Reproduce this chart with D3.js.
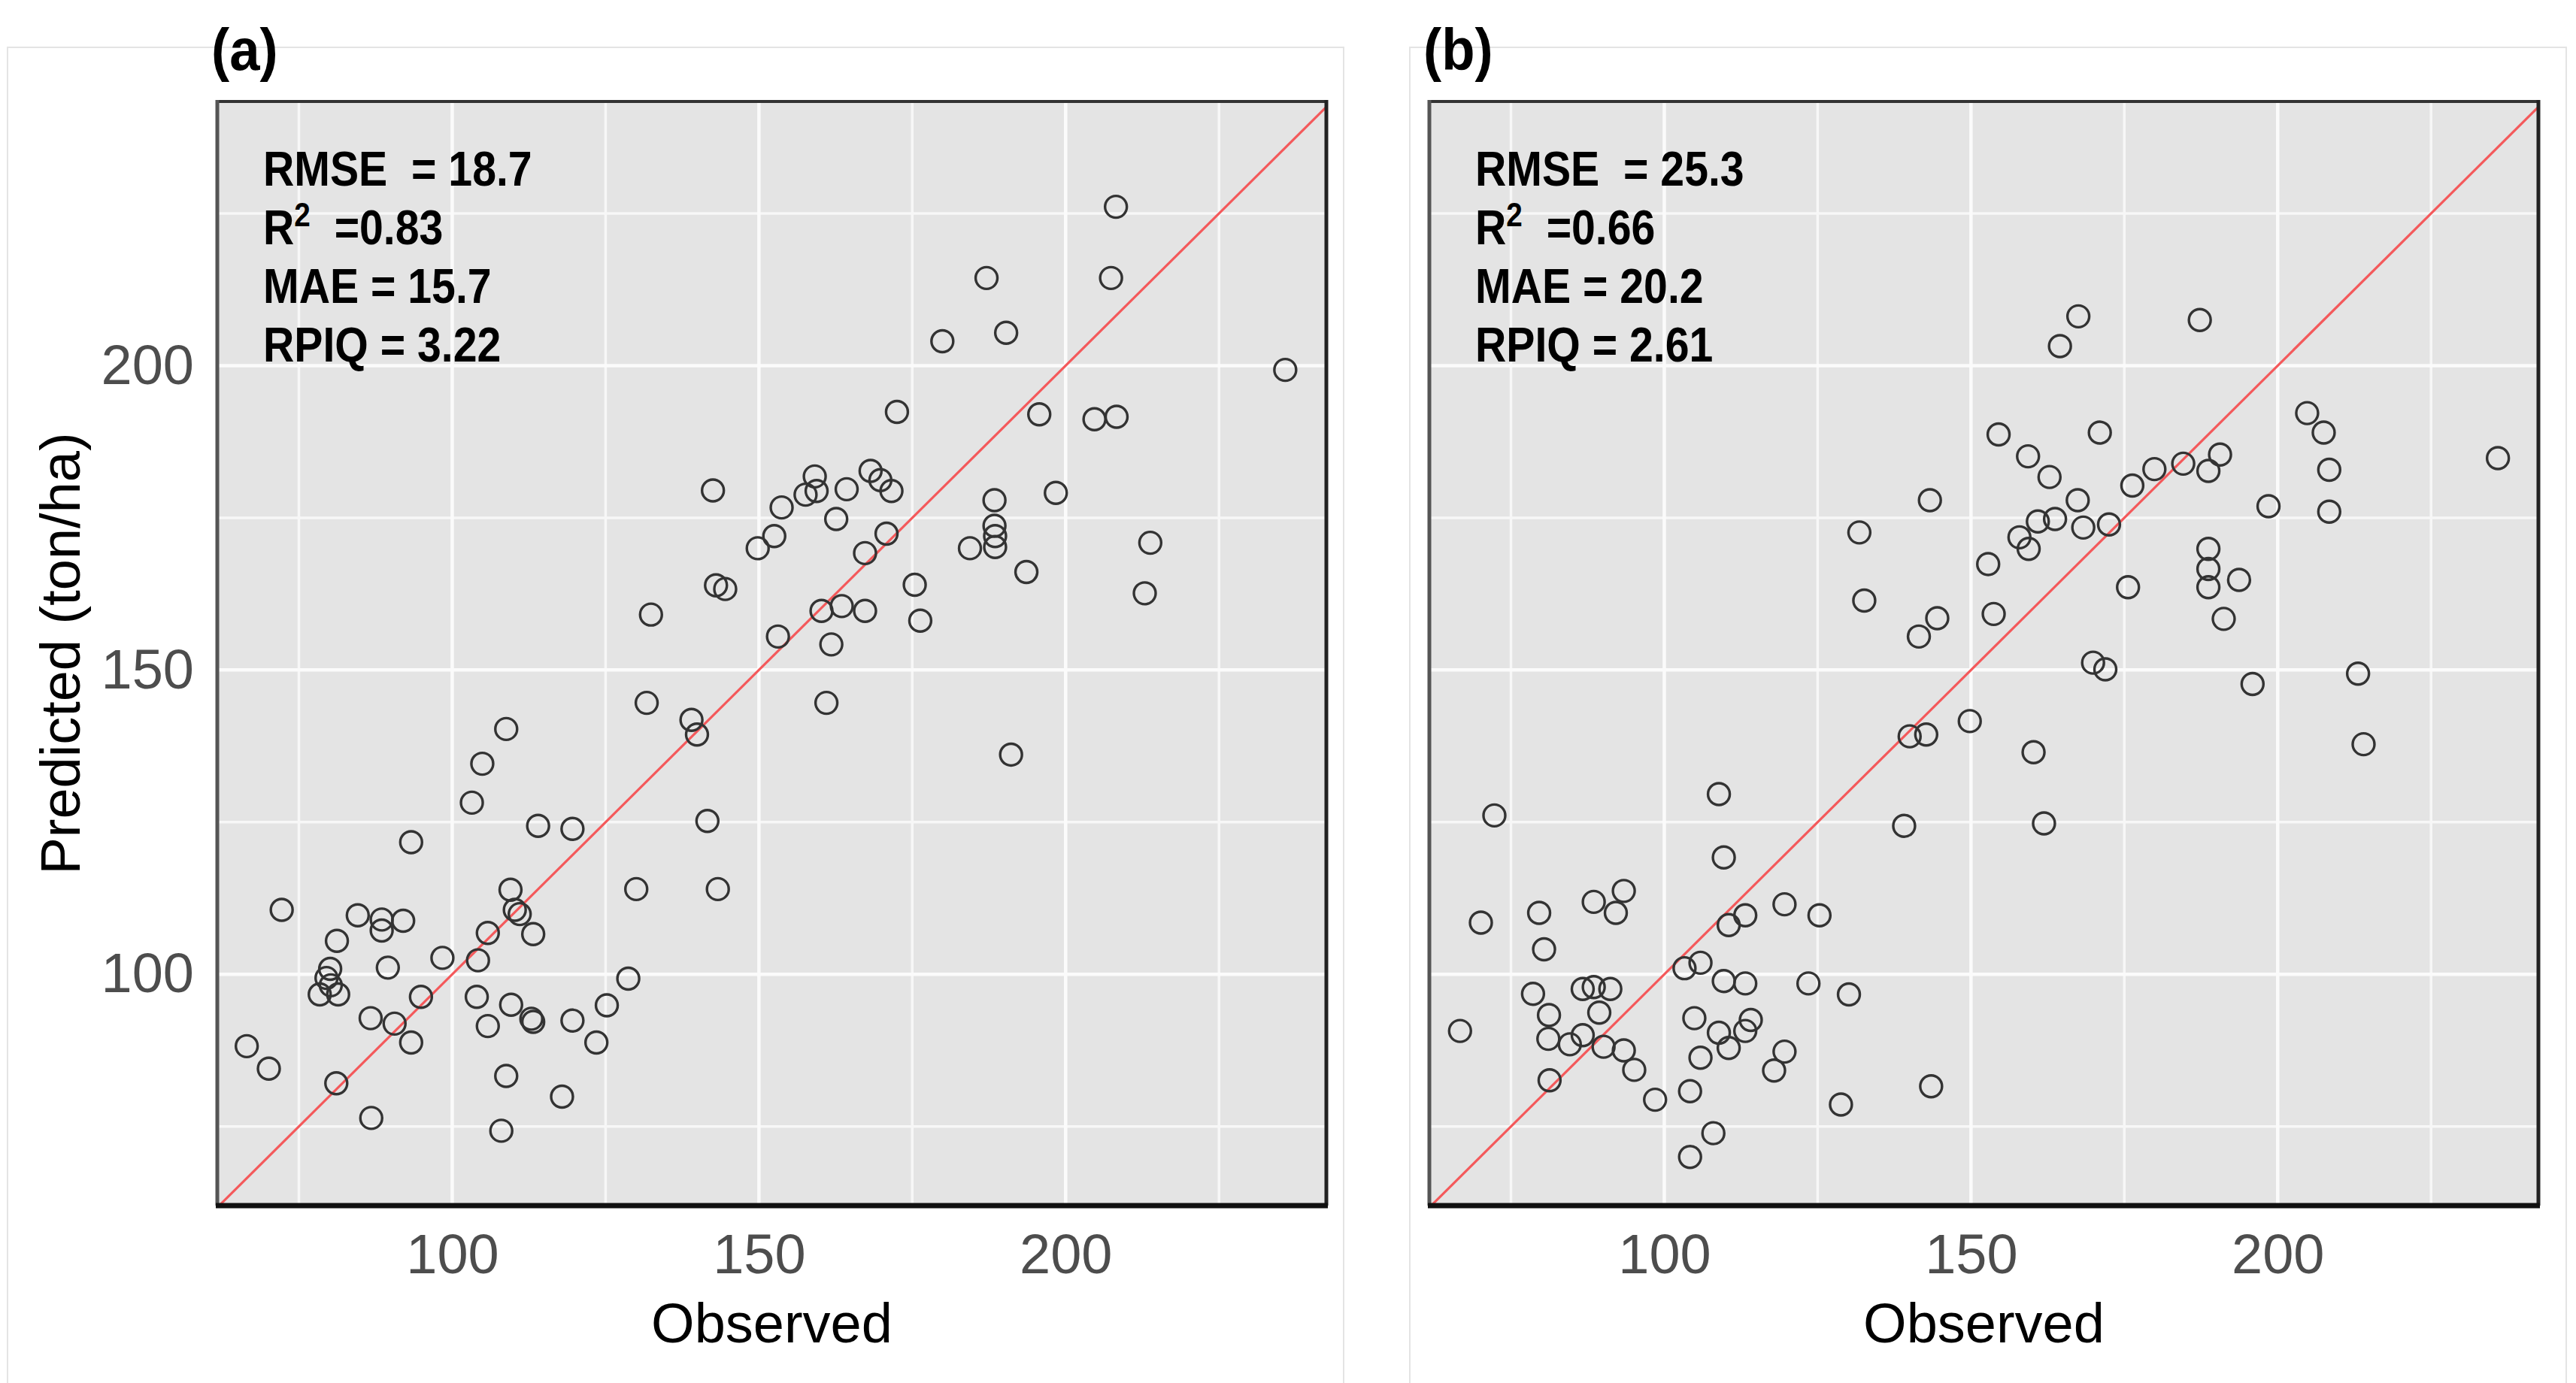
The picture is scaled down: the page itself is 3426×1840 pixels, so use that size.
<!DOCTYPE html>
<html>
<head>
<meta charset="utf-8">
<script src="https://cdn.jsdelivr.net/npm/d3@7"></script>
<style>
html, body { margin: 0; padding: 0; background: #fff; }
svg text { white-space: pre; }
</style>
</head>
<body>
<script>
// values (observed vs predicted, ton/ha)
var obsA = [131.7,139.0,139.9,108.8,104.9,103.2,114.0,119.6,93.3,141.6,
  130.0,143.3,72.2,84.6,88.5,88.5,92.0,109.5,110.2,111.0,
  113.2,105.8,81.2,98.4,104.2,89.5,80.1,79.5,78.4,81.4,
  80.2,94.9,104.0,128.7,125.2,109.6,112.9,113.2,119.6,86.7,
  90.6,93.3,105.8,123.5,66.5,70.1,81.1,108.8,117.9,86.8,
  108.0,
  208.2,187.1,207.4,179.9,190.3,235.8,172.5,195.7,204.7,208.3,
  159.1,157.6,159.4,153.7,164.3,168.2,169.8,171.6,162.6,152.5,
  170.8,167.3,188.4,188.4,188.5,188.5,184.4,198.4,193.6,213.8,
  212.9,175.4,176.3,160.2,163.5,167.3,153.1,161.8,161.0,191.1,
  142.5,149.8,143.0,144.5,132.4];
var predA = [144.6,141.8,139.4,140.3,134.6,128.2,124.4,123.9,121.7,125.2,
  114.0,114.0,110.6,109.7,109.0,107.2,108.8,113.9,110.6,109.9,
  106.6,106.8,105.5,102.7,102.3,101.1,100.9,99.4,96.7,96.7,
  98.2,96.3,96.3,99.3,94.9,95.0,92.7,92.2,92.4,92.8,
  91.9,88.8,91.5,88.8,88.2,84.5,82.1,83.3,79.9,76.4,
  74.3,
  226.1,214.4,214.4,204.0,205.4,199.3,192.4,192.0,191.2,191.6,
  181.8,178.8,179.4,176.7,179.7,182.7,181.2,179.4,174.8,172.0,
  172.4,169.2,177.9,173.7,172.0,170.2,170.0,179.1,166.1,170.9,
  162.6,164.0,158.1,159.7,160.5,159.7,155.5,154.2,144.6,136.1,
  179.5,170.0,163.9,163.3,159.1];

var obsB = [140.0,142.7,149.8,108.9,72.3,139.1,109.7,93.4,88.5,92.1,
  79.6,70.1,119.6,125.3,113.2,110.5,80.4,105.9,103.3,109.7,
  113.2,123.5,130.1,78.6,86.7,88.5,91.2,89.4,81.2,66.7,
  81.1,86.7,84.6,90.1,93.4,95.1,104.9,114.1,113.2,108.9,
  110.5,105.9,119.6,117.9,81.3,98.5,104.2,128.8,143.5,108.0,
  104.2,
  167.5,164.5,187.3,154.5,171.0,159.3,162.8,167.4,163.7,160.9,
  157.9,159.4,168.3,172.5,152.8,153.7,176.3,179.9,184.6,188.7,
  190.6,198.5,204.8,207.5,208.4,208.4,235.9,175.6,188.7,188.7,
  188.7,193.7,191.2,
  143.3,131.8,132.6,141.5,144.5,
  169.9,171.9,195.9,213.1,214.0,160.2,161.9];
var predB = [139.1,139.4,141.6,129.6,126.1,124.4,119.2,113.7,111.9,110.1,
  110.1,108.5,111.5,109.7,109.7,108.1,104.1,101.9,101.0,98.9,
  98.5,98.5,96.7,96.8,97.6,97.9,97.6,93.7,93.3,90.7,
  89.4,90.0,88.5,88.1,87.5,84.3,92.8,92.5,90.7,90.4,
  87.9,86.3,87.3,84.2,82.6,79.4,80.8,78.6,81.6,73.9,
  70.0,
  208.1,203.2,207.5,188.7,189.0,185.1,181.7,177.9,174.8,174.4,
  171.8,169.9,173.4,173.9,167.4,159.2,180.3,183.0,183.9,182.7,
  185.4,176.9,192.2,189.0,182.9,176.0,184.8,163.6,169.9,166.6,
  163.6,164.8,158.4,
  177.9,172.6,161.4,155.5,158.5,
  151.2,150.1,147.7,149.4,137.8,136.5,124.8];

var tickVals = [100, 150, 200];
var majorGrid = [100, 150, 200];
var minorGrid = [75, 125, 175, 225];
var statsA = ["18.7", "0.83", "15.7", "3.22"];
var statsB = ["25.3", "0.66", "20.2", "2.61"];

var W = 3426, H = 1840;
var boldFont = "'Liberation Sans', Arial, sans-serif";
var plainFont = "'Liberation Sans', Arial, sans-serif";

var svg = d3.select("body").append("svg")
    .attr("width", W)
    .attr("height", H);

function drawPanel(left, frameL, frameR, obs, pred, tag, stats, showY, id) {
  var pw = 1475, top = 135, bottom = 1604;
  var x = d3.scaleLinear().domain([61.7, 242.5]).range([left, left + pw]);
  var y = d3.scaleLinear().domain([62.0, 243.4]).range([bottom, top]);

  // faint frame round the whole panel
  svg.append("rect")
      .attr("x", frameL).attr("y", 63)
      .attr("width", frameR - frameL).attr("height", H)
      .attr("fill", "none").attr("stroke", "#e4e4e4").attr("stroke-width", 2);

  svg.append("text")
      .attr("transform", "translate(" + (left - 8) + ",93) scale(0.93,1)")
      .attr("font-family", boldFont).attr("font-weight", "bold")
      .attr("font-size", 78).attr("fill", "#000")
      .text(tag);

  svg.append("rect")
      .attr("x", left).attr("y", top)
      .attr("width", pw).attr("height", bottom - top)
      .attr("fill", "#e4e4e4");

  var grid = svg.append("g");
  grid.selectAll(".vmin").data(minorGrid).enter().append("line")
      .attr("x1", x).attr("x2", x).attr("y1", top).attr("y2", bottom)
      .attr("stroke", "#f7f7f7").attr("stroke-width", 3.5);
  grid.selectAll(".hmin").data(minorGrid).enter().append("line")
      .attr("y1", y).attr("y2", y).attr("x1", left).attr("x2", left + pw)
      .attr("stroke", "#f7f7f7").attr("stroke-width", 3.5);
  grid.selectAll(".vmaj").data(majorGrid).enter().append("line")
      .attr("x1", x).attr("x2", x).attr("y1", top).attr("y2", bottom)
      .attr("stroke", "#fbfbfb").attr("stroke-width", 4.5);
  grid.selectAll(".hmaj").data(majorGrid).enter().append("line")
      .attr("y1", y).attr("y2", y).attr("x1", left).attr("x2", left + pw)
      .attr("stroke", "#fbfbfb").attr("stroke-width", 4.5);

  svg.append("clipPath").attr("id", "clip" + id)
    .append("rect")
      .attr("x", left).attr("y", top)
      .attr("width", pw).attr("height", bottom - top);

  var line = d3.line().x(function(d) { return x(d); }).y(function(d) { return y(d); });
  svg.append("path")
      .datum([55, 250])
      .attr("clip-path", "url(#clip" + id + ")")
      .attr("d", line)
      .attr("fill", "none").attr("stroke", "#f4595b").attr("stroke-width", 3.2);

  svg.append("g").selectAll("circle")
      .data(obs)
      .enter()
      .append("circle")
        .attr("cx", function(d) { return x(d); })
        .attr("cy", function(d, i) { return y(pred[i]); })
        .attr("r", 14.5)
        .attr("fill", "none")
        .attr("stroke", "#333")
        .attr("stroke-width", 3.4);

  // frame of the plotting area
  svg.append("line").attr("x1", left).attr("x2", left + pw).attr("y1", top).attr("y2", top)
      .attr("stroke", "#333").attr("stroke-width", 4);
  svg.append("line").attr("x1", left).attr("x2", left).attr("y1", top - 2).attr("y2", bottom)
      .attr("stroke", "#555").attr("stroke-width", 5);
  svg.append("line").attr("x1", left + pw).attr("x2", left + pw).attr("y1", top - 2).attr("y2", bottom)
      .attr("stroke", "#222").attr("stroke-width", 5);
  svg.append("line").attr("x1", left - 2).attr("x2", left + pw + 2).attr("y1", bottom).attr("y2", bottom)
      .attr("stroke", "#111").attr("stroke-width", 7);

  // stats block
  var names = ["RMSE  = ", "R", "MAE = ", "RPIQ = "];
  var st = svg.append("g")
      .attr("font-family", boldFont).attr("font-weight", "bold")
      .attr("font-size", 65).attr("fill", "#000");
  names.forEach(function(nm, i) {
    var t = st.append("text")
        .attr("transform", "translate(" + (left + 61) + "," + (247 + i * 78) + ") scale(0.88,1)");
    if (nm === "R") {
      t.append("tspan").text("R");
      t.append("tspan").attr("font-size", 44).attr("dy", -24).text("2");
      t.append("tspan").attr("dy", 24).text("  =" + stats[i]);
    } else {
      t.text(nm + stats[i]);
    }
  });

  var xAxis = d3.axisBottom(x).tickValues(tickVals).tickSize(0).tickPadding(37);
  var gx = svg.append("g").attr("transform", "translate(0," + bottom + ")").call(xAxis);
  gx.select(".domain").remove();
  gx.selectAll("text").attr("font-size", 74).attr("font-family", plainFont).attr("fill", "#4d4d4d");

  if (showY) {
    var yAxis = d3.axisLeft(y).tickValues(tickVals).tickSize(0).tickPadding(31);
    var gy = svg.append("g").attr("transform", "translate(" + left + ",0)").call(yAxis);
    gy.select(".domain").remove();
    gy.selectAll("text").attr("font-size", 74).attr("font-family", plainFont).attr("fill", "#4d4d4d");

    svg.append("text")
        .attr("transform", "translate(106," + ((top + bottom) / 2) + ") rotate(-90)")
        .attr("text-anchor", "middle")
        .attr("font-family", plainFont).attr("font-size", 74).attr("fill", "#000")
        .text("Predicted (ton/ha)");
  }

  svg.append("text")
      .attr("x", left + pw / 2).attr("y", 1786)
      .attr("text-anchor", "middle")
      .attr("font-family", plainFont).attr("font-size", 74).attr("fill", "#000")
      .text("Observed");
}

drawPanel(289, 10, 1787, obsA, predA, "(a)", statsA, true, "a");
drawPanel(1901, 1875, 3413, obsB, predB, "(b)", statsB, false, "b");
</script>
</body>
</html>
